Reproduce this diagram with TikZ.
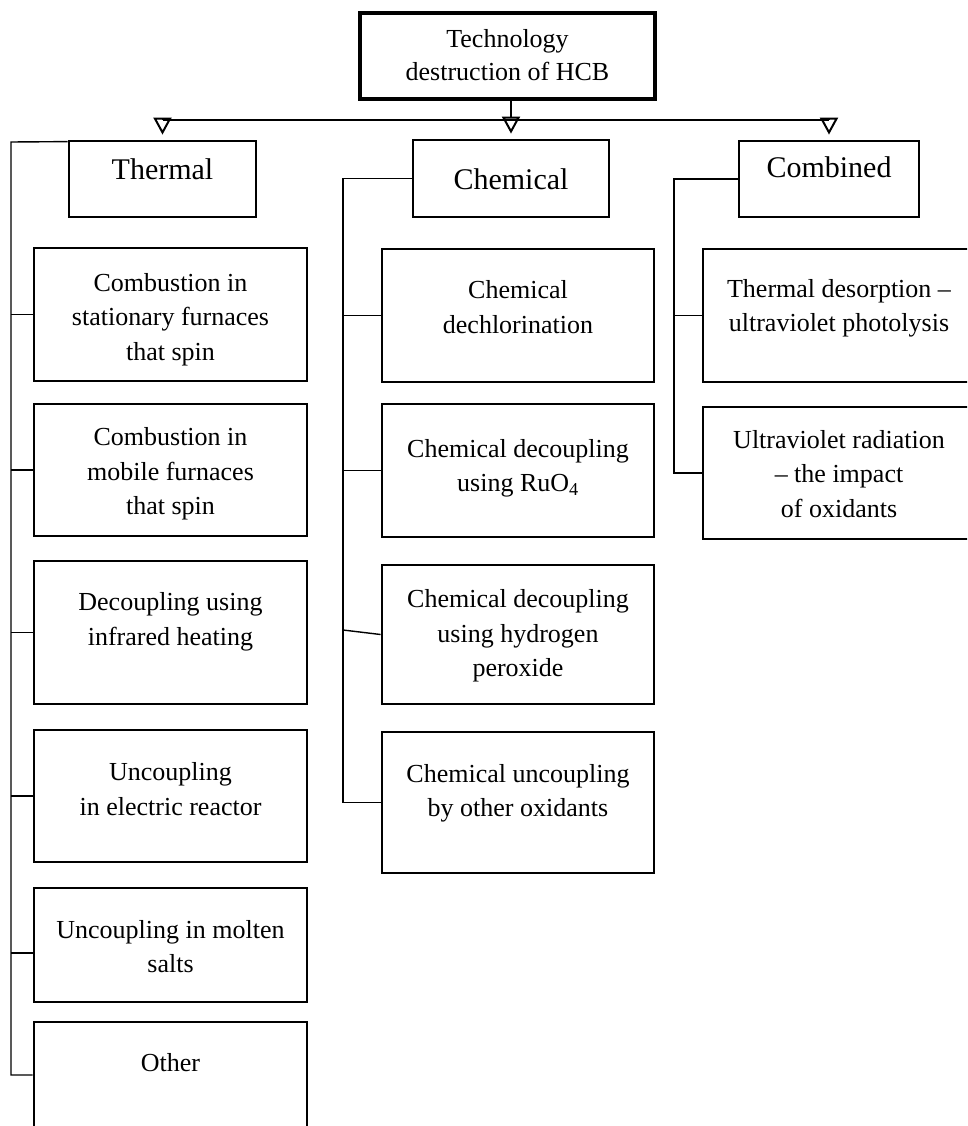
\documentclass[tikz,border=0pt]{standalone}
\usepackage{fontspec}
\setmainfont{Liberation Serif}
\usetikzlibrary{positioning,arrows.meta}

\begin{document}
\begin{tikzpicture}[x=1pt, y=-1pt,
  topbox/.style={rectangle, draw, line width=4pt, minimum width=295pt, minimum height=86pt},
  head/.style={rectangle, draw, line width=2.8pt, minimum height=76pt},
  sub/.style={rectangle, draw, line width=2.8pt, minimum width=272pt, minimum height=133pt},
  txt/.style={align=center, inner sep=0pt, font=\fontsize{26pt}{34.5pt}\selectfont},
  headtxt/.style={inner sep=0pt, font=\fontsize{30pt}{36pt}\selectfont},
  bus/.style={line width=2pt},
  feed/.style={line width=2pt, -{Triangle[open, length=17pt, width=18pt]}, shorten >=5pt},
  link/.style={line width=1.4pt},
  node distance=25pt]
  \useasboundingbox (0,0) rectangle (967,1126);
  \clip (0,0) rectangle (967,1126);

  % root
  \node[topbox] (top) at (507.5,56) {};
  \node[txt, font=\fontsize{26pt}{33pt}\selectfont] (toptxt) at ([yshift=1pt]top) {Technology\\destruction of HCB};

  % three groups
  \node[head, minimum width=187pt] (thermal) at (162.5,179) {};
  \node[head, minimum width=196pt, minimum height=77pt] (chem) at (511,178.5) {};
  \node[head, minimum width=180pt] (comb) at (829,179) {};
  \node[headtxt] (thermaltxt) at ([yshift=10pt]thermal) {Thermal};
  \node[headtxt] (chemtxt) at ([yshift=-1pt]chem) {Chemical};
  \node[headtxt] (combtxt) at ([yshift=12pt]comb) {Combined};

  % thermal methods
  \node[sub, minimum width=273pt] (t1) at (170.5,314.5) {};
  \node[sub, minimum width=273pt, minimum height=132pt, below=20.2pt of t1] (t2) {};
  \node[sub, minimum width=273pt, minimum height=143pt, below=22.2pt of t2] (t3) {};
  \node[sub, minimum width=273pt, minimum height=132pt, below=23.2pt of t3] (t4) {};
  \node[sub, minimum width=273pt, minimum height=114pt, below=23.2pt of t4] (t5) {};
  \node[sub, minimum width=273pt, minimum height=106pt, below=17.2pt of t5] (t6) {};
  \node[txt] (t1txt) at ([yshift=-5pt]t1) {Combustion in\\stationary furnaces\\that spin};
  \node[txt] (t2txt) at ([yshift=-4pt]t2) {Combustion in\\mobile furnaces\\that spin};
  \node[txt] (t3txt) at ([yshift=10.5pt]t3) {Decoupling using\\infrared heating};
  \node[txt] (t4txt) at ([yshift=7pt]t4) {Uncoupling\\in electric reactor};
  \node[txt] (t5txt) at ([yshift=-1.5pt]t5) {Uncoupling in molten\\salts};
  \node[txt] (t6txt) at ([yshift=12pt]t6) {Other};

  % chemical methods
  \node[sub] (c1) at (518,315.5) {};
  \node[sub, below=19.2pt of c1] (c2) {};
  \node[sub, minimum height=139pt, below=25.2pt of c2] (c3) {};
  \node[sub, minimum height=141pt, below=25.2pt of c3] (c4) {};
  \node[txt] (c1txt) at ([yshift=8.5pt]c1) {Chemical\\dechlorination};
  \node[txt] (c2txt) at ([yshift=2pt]c2) {Chemical decoupling\\using RuO\textsubscript{4}};
  \node[txt] (c3txt) at ([yshift=-1.5pt]c3) {Chemical decoupling\\using hydrogen\\peroxide};
  \node[txt] (c4txt) at ([yshift=9pt]c4) {Chemical uncoupling\\by other oxidants};

  % combined methods
  \node[sub] (k1) at (839,315.5) {};
  \node[sub, minimum height=132pt, below=22.2pt of k1] (k2) {};
  \node[txt] (k1txt) at ([yshift=7pt]k1) {Thermal desorption --\\ultraviolet photolysis};
  \node[txt] (k2txt) at ([yshift=-1pt]k2) {Ultraviolet radiation\\-- the impact\\of oxidants};

  % arrows from the root
  \coordinate (hub) at (511,120);
  \draw[bus] (thermal.north |- hub) -- (comb.north |- hub);
  \draw[feed] (top.south -| chem.north) -- (chem.north);
  \draw[feed] (thermal.north |- hub) -- (thermal.north);
  \draw[feed] (comb.north |- hub) -- (comb.north);

  % thermal trunk
  \coordinate (tbus) at (11,142);
  \draw[link] ([yshift=-2pt]thermal.north west) -- (tbus) |- (t6.west);
  \foreach \n in {t1,t2,t3,t4}
    \draw[link] (tbus |- \n.west) -- (\n.west);
  \draw[link] ([yshift=-8pt]t5.west -| tbus) -- ([yshift=-8pt]t5.west);

  % chemical trunk
  \coordinate (cbus) at (343,178.5);
  \draw[link] (chem.west) -- (cbus) |- (c4.west);
  \draw[link] (cbus |- c1.west) -- (c1.west);
  \draw[link] (cbus |- c2.west) -- (c2.west);
  \draw[link] ([yshift=4.5pt]cbus |- c3.west) -- (c3.west);

  % combined trunk
  \coordinate (kbus) at (674,179);
  \draw[link] (comb.west) -- (kbus) |- (k2.west);
  \draw[link] (kbus |- k1.west) -- (k1.west);
\end{tikzpicture}
\end{document}
